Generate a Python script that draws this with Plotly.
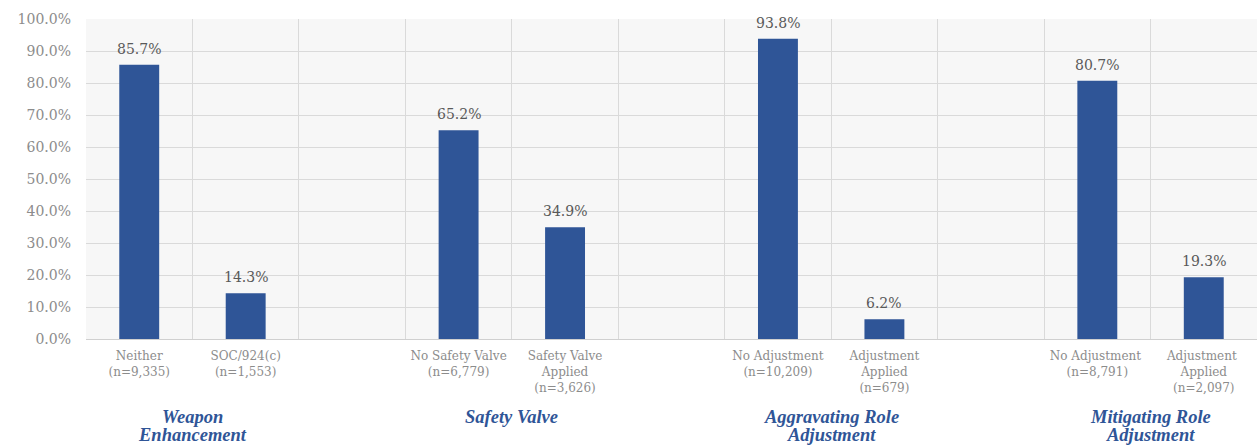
import plotly.graph_objects as go

# Categories (blank slots separate the four groups)
categories = [
    "Neither<br>(n=9,335)",
    "SOC/924(c)<br>(n=1,553)",
    " ",
    "No Safety Valve<br>(n=6,779)",
    "Safety Valve<br>Applied<br>(n=3,626)",
    "  ",
    "No Adjustment<br>(n=10,209)",
    "Adjustment<br>Applied<br>(n=679)",
    "   ",
    "No Adjustment <br>(n=8,791)",
    "Adjustment <br>Applied<br>(n=2,097)",
]
shares = [0.857, 0.143, None, 0.652, 0.349, None, 0.938, 0.062, None, 0.807, 0.193]

# group titles, one list entry per line
group_titles = [
    ["Weapon", "Enhancement"],
    ["Safety Valve"],
    ["Aggravating Role", "Adjustment"],
    ["Mitigating Role", "Adjustment"],
]
group_centers = [0.5, 3.5, 6.5, 9.5]

SERIF = "DejaVu Serif"
TITLE_SERIF = "Liberation Serif"
BAR = "#2F5597"

fig = go.Figure()
fig.add_trace(go.Bar(
    x=categories, y=shares, marker=dict(color=BAR, line=dict(width=0)),
    width=0.375, hoverinfo="skip",
))

# value labels above bars
for c, v in zip(categories, shares):
    if v is None:
        continue
    fig.add_annotation(
        x=c, y=v, xref="x", yref="y", text=f"{v*100:.1f}%", showarrow=False,
        yanchor="bottom", yshift=6, font=dict(family=SERIF, size=14, color="#595959"),
    )

# group titles under the axis
line_y = [-0.244, -0.300]
for lines, cx in zip(group_titles, group_centers):
    for i, t in enumerate(lines):
        fig.add_annotation(
            x=cx, y=line_y[i], xref="x", yref="paper", text=f"<b><i>{t}</i></b>",
            showarrow=False, yanchor="middle", align="center",
            font=dict(family=TITLE_SERIF, size=18.5, color=BAR),
        )

fig.update_layout(
    width=1258, height=446,
    margin=dict(l=86, r=1, t=19, b=107),
    paper_bgcolor="white", plot_bgcolor="#f7f7f7",
    showlegend=False, bargap=0.625,
)
fig.update_xaxes(
    type="category", tickson="boundaries", showgrid=True, gridcolor="#dadada", gridwidth=1,
    showline=True, linecolor="#d0d0d0", ticks="", ticklen=0, tickangle=0, automargin=False,
    ticklabelstandoff=6,
    tickfont=dict(family=SERIF, size=12, color="#8c8c8c"),
    range=[-0.5, 10.5],
)
fig.update_yaxes(
    range=[0, 1.0], dtick=0.1, tickformat=".1%", showgrid=True, gridcolor="#dadada",
    zeroline=False, ticks="", ticklabelstandoff=14, automargin=False,
    tickfont=dict(family=SERIF, size=14, color="#8c8c8c"),
)

fig.write_html("out.html")
